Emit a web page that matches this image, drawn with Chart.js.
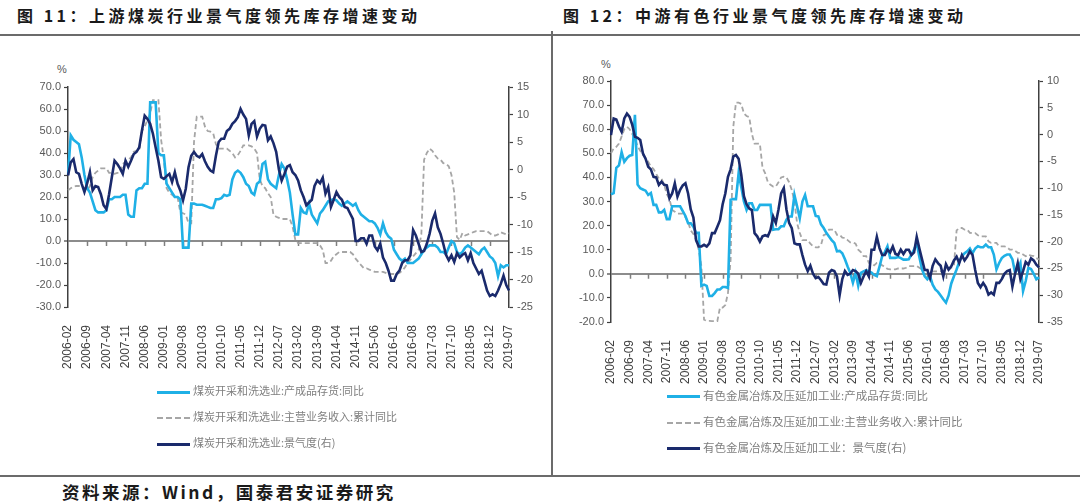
<!DOCTYPE html>
<html>
<head>
<meta charset="utf-8">
<script src="https://cdn.jsdelivr.net/npm/chart.js"></script>
<style>
  body { margin: 0; background: #fff; }
  #page { position: relative; width: 1080px; height: 502px; background: #fff; overflow: hidden; font-family: "Noto Sans CJK SC", sans-serif; }
  .titulo { position: absolute; top: 3px; font-size: 16px; font-weight: bold; color: #1a1a1a; letter-spacing: 3.5px; white-space: nowrap; }
  .linea { position: absolute; background: #6b6b6b; }
  .lienzo { position: absolute; }
  .pct { position: absolute; font: 11px "Liberation Sans", Arial, sans-serif; color: #595959; }
  .leyenda { position: absolute; color: #7f7f7f; white-space: nowrap; }
  .leyenda div { height: 26px; line-height: 26px; }
  .muestra { display: inline-block; width: 33px; vertical-align: middle; margin-right: 3px; }
  .fuente { position: absolute; left: 62px; top: 479px; font-size: 17.5px; font-weight: bold; color: #1a1a1a; letter-spacing: 2.5px; white-space: nowrap; }
</style>
</head>
<body>
<div id="page">
  <div class="titulo" style="left:17px">图 11：上游煤炭行业景气度领先库存增速变动</div>
  <div class="titulo" style="left:563px">图 12：中游有色行业景气度领先库存增速变动</div>
  <div class="linea" style="left:0;top:34px;width:1080px;height:2px"></div>
  <div class="linea" style="left:551px;top:31px;width:2px;height:445px"></div>
  <div class="linea" style="left:0;top:475px;width:1080px;height:2px"></div>

  <div class="pct" style="left:57px;top:63px">%</div>
  <div class="pct" style="left:601px;top:58px">%</div>

  <canvas id="grafico1" class="lienzo" width="545" height="330" style="left:0;top:55px"></canvas>
  <canvas id="grafico2" class="lienzo" width="525" height="340" style="left:555px;top:50px"></canvas>

  <div class="leyenda" style="left:157px;top:377px;font-size:11px">
    <div><span class="muestra" style="border-top:3px solid #1fb0e6"></span>煤炭开采和洗选业:产成品存货:同比</div>
    <div><span class="muestra" style="border-top:2px dashed #a6a6a6"></span>煤炭开采和洗选业:主营业务收入:累计同比</div>
    <div><span class="muestra" style="border-top:3px solid #1a2a6c"></span>煤炭开采和洗选业:景气度(右)</div>
  </div>
  <div class="leyenda" style="left:667px;top:382px;font-size:11.5px">
    <div><span class="muestra" style="border-top:3px solid #1fb0e6"></span>有色金属冶炼及压延加工业:产成品存货:同比</div>
    <div><span class="muestra" style="border-top:2px dashed #a6a6a6"></span>有色金属冶炼及压延加工业:主营业务收入:累计同比</div>
    <div><span class="muestra" style="border-top:3px solid #1a2a6c"></span>有色金属冶炼及压延加工业：景气度(右)</div>
  </div>

  <div class="fuente">资料来源：Wind，国泰君安证券研究</div>
</div>

<script>
// meses 2006-02 .. 2019-07
const meses = [];
for (let a = 2006, m = 2; meses.length < 162; m++) {
    if (m > 12) { m = 1; a++; }
    meses.push(a + "-" + String(m).padStart(2, "0"));
}
const etiquetasEje = ["2006-02","2006-09","2007-04","2007-11","2008-06","2009-01","2009-08","2010-03",
    "2010-10","2011-05","2011-12","2012-07","2013-02","2013-09","2014-04","2014-11","2015-06","2016-01",
    "2016-08","2017-03","2017-10","2018-05","2018-12","2019-07"];

// 图11 煤炭
const carbonInventario = [
    30, 48, 46, 45, 44, 38, 30,
    24, 22, 18, 14, 13, 13, 13,
    14, 19, 19, 20, 20, 20, 21,
    21, 12, 11, 11, 23, 24, 24,
    26, 26, 63, 63, 63, 40, 39,
    39, 26, 24, 22, 20, 20, 19,
    -3, -3, -3, 17, 17, 16.5, 16.5,
    16.5, 16, 15.5, 15, 15, 19, 19,
    19.5, 21, 20.5, 21, 28, 31, 32,
    31, 29, 26, 25, 22, 21, 26,
    27, 35, 36, 28, 26, 25, 24,
    30, 35, 33, 28, 22, 12, 3,
    3, 15, 13, 12.5, 17, 12, 10,
    8, 12.5, 14, 16, 18, 18.5, 19,
    18.5, 17, 16, 17, 18, 17, 16,
    17, 14, 12, 11, 10, 9, 9,
    8, 6, 3, 8, 4, 2, 1,
    -4, -6, -8, -9, -8, -10, -10,
    -10, -9, -8, -6, -4, -3, -2,
    -2, -2, -3, -5, -5, -6, -3,
    0, -1, -5, -6, -5, -3, -2,
    -3, -4, -5, -6, -4, -3, -5,
    -7, -8, -10, -16, -11, -12, -11,
    -11
];
const carbonIngresos = [
    23, 24, 24.7, 25, 25, 25, 24,
    23, 25, 29, 31, 32, 33, 33,
    33, 31, 31, 30.5, 31, 31, 35,
    36, 37, 38, 40.6, 41, 41, 50,
    52, 55, 58, 64, 64, 64, 46,
    37, 24, 22, 21, 20, 20, 13,
    12.6, 12, 8, 8, 45, 56.5, 56.5,
    56.5, 52, 50, 49.7, 49, 44, 42,
    42, 42, 42, 41, 40, 38, 39,
    41, 43.5, 43.5, 43.5, 43, 42, 40,
    28, 25, 24, 21.7, 20, 12, 11,
    10.5, 10, 10, 10, 10, 6.4, 0.5,
    -1, -1, -1, -1, -1, -1, -1,
    -1, -2, -4, -10, -10, -9, -7,
    -6, -5, -5, -5, -5, -5, -6,
    -8, -9.5, -11, -12.4, -12.4, -13, -13.5,
    -14, -14, -14, -14, -14.5, -15, -15,
    -15, -15, -14.5, -13.5, -12, -10, -8.5,
    -7, -5.5, -4, 3, 37, 40, 42,
    41, 39, 37.5, 37, 35.4, 35, 34,
    30, 22, 1.8, 0.5, 3.6, 2.5, 3,
    3.5, 4, 4.5, 4.5, 4.5, 4.5, 4.5,
    3.5, 2.5, 2.5, 3, 4, 3.5, 3,
    3.5
];
const carbonClima = [
    -1.1, 1.3, 1.9, -0.5, -0.8, -2.6, -4.1,
    -2.5, -0.5, -3.8, -3, -3.2, -4.5, -6.5,
    -7.2, -4.5, -1.4, 1.6, 1, 0.2, -0.8,
    1.6, 0.5, 1.6, 2.8, 3.2, 4, 7.1,
    9.8, 9.2, 8.3, 6.5, 4, 1.6, -1.4,
    -1.7, -1.2, -0.8, -2.3, -0.5, -2.6, -3.8,
    -5.6, -3.5, 0.4, 2.5, 3.2, 2.5, 2.2,
    2.8, 1.5, 0.5, -0.2, -0.5, 2.5, 5,
    5.6, 5.6, 7, 7.4, 8.3, 8.8, 9.5,
    11, 10, 9.2, 6.2, 8.3, 8.8, 6,
    7.4, 8.1, 8, 5.3, 6, 4.8, 3.2,
    0, -2, -0.8, 0.5, 0.8, -0.5, -1,
    -2, -3.8, -5, -6.5, -6, -5.5, -3,
    -2, -2.5, -1.5, -4.4, -3.2, -6.8, -5.5,
    -4.1, -5, -5.5, -6.8, -7, -8, -9,
    -13, -13, -12.5, -12.5, -13.5, -12, -12,
    -14, -14.7, -13.5, -16, -17, -18.4, -20.2,
    -20.2, -19, -18.4, -17, -16.5, -16.5, -15.6,
    -11, -12, -13.5, -15, -14.8, -13.5, -11.7,
    -9.3, -8, -10.5, -11.7, -13.5, -15.5, -16.5,
    -15.6, -16.8, -15.2, -16, -15.5, -15.2, -16.5,
    -15.2, -17, -18, -19, -18.4, -20.2, -22,
    -23, -22.7, -23, -22, -20.8, -19.3, -21,
    -22
];

// 图12 有色
const metalInventario = [
    33, 33.5, 44, 45, 50.5, 46.5, 48,
    49, 49.3, 66, 37, 35.5, 35, 34.5,
    32.7, 33.5, 28.6, 28.6, 25.5, 25.5, 26.5,
    22.7, 22.7, 28, 28, 28, 28, 26,
    24, 21, 21, 19.5, 17, 17, -5,
    -4.5, -5, -9.2, -9.2, -8, -6.5, -6.5,
    -5.5, -5.5, -5.9, 30.7, 31, 31, 41.7,
    36, 30, 26.5, 29.3, 29.3, 26.5, 26.5,
    28.6, 28.6, 28.6, 28.6, 28.6, 18.3, 18.5,
    18.5, 19.7, 19.7, 22.5, 23.8, 23.8, 32.7,
    28, 23, 30, 32.7, 28, 28, 28,
    24, 23.8, 20.5, 19, 17, 15.5, 14,
    12.8, 9.3, 9.5, 8.5, 6, 3, 0.4,
    -3.7, 0.4, -5, 0.4, 1, 1.5, 1,
    0.5, -0.5, -1, 3, 7.3, 9, 11.4,
    6.6, 6.6, 6.6, 7, 6.5, 5.9, 5.9,
    6, 8, 10, 12.8, 7, 1.8, -1,
    -2.3, -1, -4.5, -6.5, -7.5, -9, -10.6,
    -12, -9, -4, -1, 1.8, 5, 7.3,
    8.5, 9.3, 10.5, 8.5, 10.5, 11.4, 11,
    11, 12.1, 11, 11, 8, 1.8, 4.5,
    6.5, 7.5, 8, 8, 6, 0.4, 2,
    4.5, -7.2, -3, 2.5, 2, 0, -2.3,
    -1.5
];
const metalIngresos = [
    50, 52, 52.7, 54, 57, 60, 61,
    60, 58, 56, 53, 51, 49.3, 48,
    46.5, 44.5, 43.5, 41.5, 39.5, 39.5, 37,
    33, 31, 26.5, 25.8, 25, 25, 25,
    23.5, 21.5, 18, 16.5, 14.2, 10, 3.2,
    -19, -19.5, -19.5, -19.6, -19.6, -19.6, -14,
    -14, -13, -8, 5.9, 61, 71, 71,
    70.5, 66.5, 65.5, 65, 58, 54, 54,
    54, 44, 41.7, 38, 36.9, 36.2, 36.2,
    38, 40, 40.3, 40, 38, 34.8, 30,
    21, 17, 14, 14, 14, 12.5, 11.4,
    11, 11, 12, 16, 16.5, 18.3, 18.3,
    18.3, 16.2, 16.2, 15, 14.9, 14, 13,
    13, 12.5, 10, 9, 7.3, 7.3, 4.5,
    4.5, 3.5, 4.5, 4.5, 3.5, 3, 2,
    1.8, 1.8, 1.8, 2.2, 2.2, 2.2, 2.5,
    3.2, 3.2, 3.2, 3.2, 2.5, 1.8, 1.8,
    1.5, 1.2, 1, 1, 1, 1, 1.2,
    1.5, 1.8, 2.5, 3.2, 18, 19, 19,
    18.3, 18.3, 17, 16.9, 16.9, 16, 15.5,
    15.5, 15.5, 13.5, 12.8, 12.8, 12.8, 11.4,
    11.4, 11.4, 11, 10, 10, 9.5, 8.7,
    8.7, 8, 7.3, 8, 7.5, 7.3, 6.5,
    5.9
];
const metalClima = [
    -0.1, 3, 2.8, 1.5, 0.5, 3, 3.9,
    3.3, 1.8, -0.4, -0.6, -1, -3.5, -4.5,
    -6, -6.5, -7.9, -8, -9.4, -8.8, -9.4,
    -9.5, -11.9, -11, -9.1, -11.6, -10.3, -9.5,
    -9.1, -11, -14, -15.5, -19.7, -20.9, -20.9,
    -20.6, -20.9, -20.3, -18.4, -18.4, -17.2, -16,
    -13, -11, -7.9, -6.5, -4.1, -3.8, -4.5,
    -7.5, -11.5, -13, -13.8, -14.1, -18.4, -19,
    -20, -19, -18.8, -19, -17.8, -15.3, -16.5,
    -14, -11, -10, -14, -16.5, -17.5, -20.3,
    -20.5, -20.5, -22.5, -24.3, -25.5, -24.5, -26,
    -26.8, -26.6, -27.2, -27.9, -28, -25.8, -25.3,
    -25.5, -26.5, -30, -27, -25.5, -26.2, -26,
    -25.3, -25.5, -26, -27.7, -26.5, -25.5, -26.5,
    -21.5, -21.5, -19.1, -21.2, -22.5, -22.5, -21.5,
    -22, -20.9, -22.3, -22.5, -21.5, -22.3, -21.5,
    -21.5, -22.5, -22, -19.1, -21.3, -23.3, -25.3,
    -25.3, -26.8, -24.5, -23.3, -24, -24.5, -26.5,
    -24.2, -25.2, -24.6, -23.5, -22.8, -24, -22.5,
    -23.5, -22.8, -21.8, -22.5, -25.3, -27.7, -28.5,
    -27.7, -28.5, -29.9, -29.5, -29.9, -27.7, -27.7,
    -27, -26, -25.5, -25.3, -28.4, -26, -24,
    -27, -25.5, -23.8, -24.3, -23.1, -23.5, -24.3,
    -24.8
];

const azulClaro = "#1fb0e6";
const gris = "#a6a6a6";
const azulOscuro = "#1a2a6c";
const fuenteEje = "'Liberation Sans', Arial, sans-serif";

// marcas pequeñas del eje x sobre la línea cero
const marcasCero = {
    id: "marcasCero",
    beforeDatasetsDraw(chart) {
        const ctx = chart.ctx;
        const xs = chart.scales.x;
        const y0 = chart.scales.y.getPixelForValue(0);
        ctx.save();
        ctx.strokeStyle = "#7f7f7f";
        ctx.lineWidth = 1.5;
        ctx.beginPath();
        for (let i = 7; i < meses.length - 1; i += 7) {
            const x = Math.round(xs.getPixelForValue(i)) + 0.5;
            ctx.moveTo(x, y0);
            ctx.lineTo(x, y0 + 5);
        }
        ctx.stroke();
        ctx.restore();
    }
};

function crearGrafico(id, series, ejeIzq, ejeDer, medidas) {
    const ctx = document.getElementById(id).getContext("2d");
    return new Chart(ctx, {
        type: "line",
        data: {
            labels: meses,
            datasets: [
                { data: series[2], yAxisID: "y2", borderColor: azulOscuro, borderWidth: 2.6, order: 1 },
                { data: series[0], yAxisID: "y", borderColor: azulClaro, borderWidth: 2.6, order: 2 },
                { data: series[1], yAxisID: "y", borderColor: gris, borderWidth: 1.8, borderDash: [5, 3], order: 3 }
            ]
        },
        options: {
            responsive: false,
            animation: false,
            layout: { padding: { top: medidas.arriba, left: 0, right: 0, bottom: 0 } },
            elements: { point: { radius: 0 }, line: { tension: 0 } },
            plugins: { legend: { display: false }, tooltip: { enabled: false } },
            scales: {
                x: {
                    type: "category",
                    offset: false,
                    grid: { display: false },
                    border: { display: false },
                    afterFit: s => { s.height = medidas.ejeX; },
                    ticks: {
                        autoSkip: false,
                        minRotation: 90,
                        maxRotation: 90,
                        padding: 10,
                        color: "#404040",
                        font: { family: fuenteEje, size: 12 },
                        callback: (v, i) => (i % 7 === 0 ? etiquetasEje[i / 7] : "")
                    }
                },
                y: {
                    position: "left",
                    min: ejeIzq[0], max: ejeIzq[1],
                    afterFit: s => { s.width = medidas.izq; },
                    border: { display: true, color: "#404040", width: 1.5 },
                    grid: {
                        color: c => (c.tick && c.tick.value === 0 ? "#8c8c8c" : "rgba(0,0,0,0)"),
                        lineWidth: c => (c.tick && c.tick.value === 0 ? 2 : 1),
                        tickColor: "#404040",
                        tickWidth: 1.2,
                        tickLength: 4
                    },
                    ticks: {
                        stepSize: ejeIzq[2],
                        padding: 3,
                        color: "#595959",
                        font: { family: fuenteEje, size: 11 },
                        callback: v => v.toFixed(1)
                    }
                },
                y2: {
                    position: "right",
                    min: ejeDer[0], max: ejeDer[1],
                    afterFit: s => { s.width = medidas.der; },
                    border: { display: true, color: "#404040", width: 1.5 },
                    grid: { drawOnChartArea: false, tickColor: "#404040", tickWidth: 1.2, tickLength: 4 },
                    ticks: {
                        stepSize: ejeDer[2],
                        padding: 4,
                        color: "#595959",
                        font: { family: fuenteEje, size: 11 }
                    }
                }
            }
        },
        plugins: [marcasCero]
    });
}

crearGrafico("grafico1", [carbonInventario, carbonIngresos, carbonClima],
    [-30, 70, 10], [-25, 15, 5], { arriba: 32, ejeX: 78, izq: 68, der: 36 });
crearGrafico("grafico2", [metalInventario, metalIngresos, metalClima],
    [-20, 80, 10], [-35, 10, 5], { arriba: 31, ejeX: 68, izq: 56, der: 41 });
</script>
</body>
</html>
